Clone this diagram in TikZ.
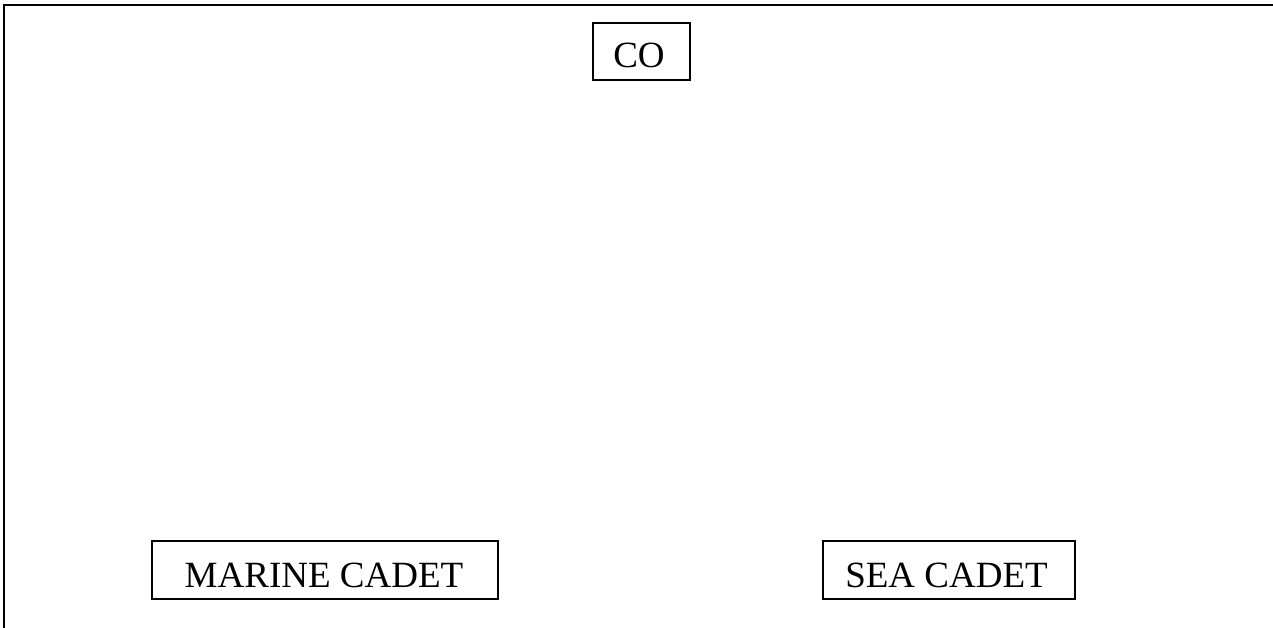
\documentclass[tikz,border=0pt]{standalone}
\usepackage{fontspec}
\setmainfont{Liberation Serif}
\begin{document}
\begin{tikzpicture}[x=1pt,y=-1pt,
  unitbox/.style={draw,line width=1.5pt,inner sep=0pt,font=\fontsize{37}{44}\selectfont},
  frame/.style={line width=2pt}]
\useasboundingbox (0,0) rectangle (1273,628);
\coordinate (tl) at (4,5);
\coordinate (tr) at (1273,5);
\coordinate (bl) at (4,628);
\draw[frame] (bl) -- (tl) -- (tr);
\node[unitbox,minimum width=97pt,minimum height=57pt] (co) at (641.5,51.5) {};
\node[font=\fontsize{37}{44}\selectfont,anchor=base,inner sep=0pt] (cot) at (639,68) {CO};
\node[unitbox,minimum width=346pt,minimum height=58pt] (mc) at (325,570) {};
\node[font=\fontsize{37}{44}\selectfont,anchor=base,inner sep=0pt] (mct) at (324,587) {MARINE CADET};
\node[unitbox,minimum width=252pt,minimum height=58pt] (sc) at (949,570) {};
\node[font=\fontsize{37}{44}\selectfont,anchor=base,inner sep=0pt] (sct) at (946.5,587) {SEA CADET};
\end{tikzpicture}
\end{document}
